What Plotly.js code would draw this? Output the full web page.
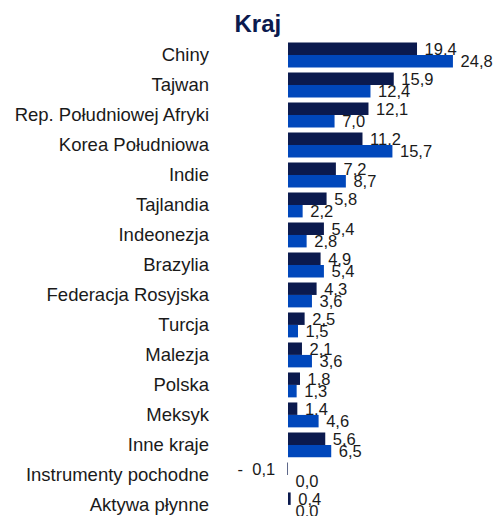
<!DOCTYPE html>
<html><head><meta charset="utf-8">
<script src="https://cdn.plot.ly/plotly-3.0.1.min.js"></script>
<style>html,body{margin:0;padding:0;background:#fff}#chart{width:494px;height:516px}</style>
</head><body><div id="chart"></div>
<script>
const categories = ["Chiny","Tajwan","Rep. Południowej Afryki","Korea Południowa","Indie","Tajlandia","Indeonezja","Brazylia","Federacja Rosyjska","Turcja","Malezja","Polska","Meksyk","Inne kraje","Instrumenty pochodne","Aktywa płynne"];
const fundValues = [19.4,15.9,12.1,11.2,7.2,5.8,5.4,4.9,4.3,2.5,2.1,1.8,1.4,5.6,-0.1,0.4];
const benchValues = [24.8,12.4,7.0,15.7,8.7,2.2,2.8,5.4,3.6,1.5,3.6,1.3,4.6,6.5,0.0,0.0];
const NB = "\u00a0";
const fmt = v => v < 0
  ? "-" + NB + NB + Math.abs(v).toFixed(1).replace(".", ",") + NB + NB
  : NB + v.toFixed(1).replace(".", ",");
const font = "Liberation Sans, Arial, sans-serif";
const common = {type:"bar", orientation:"h", y:categories, textposition:"outside", cliponaxis:false,
  constraintext:"none", textfont:{family:font, size:16.5, color:"#1a1a1a"}, hoverinfo:"skip"};
const data = [
  Object.assign({}, common, {name:"Fundusz", x:fundValues, text:fundValues.map(fmt), marker:{color:"#0b1a4e"}}),
  Object.assign({}, common, {name:"Benchmark", x:benchValues, text:benchValues.map(fmt), marker:{color:"#0047bb"}})
];
const layout = {
  width:494, height:516, margin:{l:210, r:14, t:40, b:0},
  paper_bgcolor:"#fff", plot_bgcolor:"#fff", showlegend:false,
  barmode:"group", bargap:0.17, bargroupgap:0,
  title:{text:"<b>Kraj</b>", x:0.522, xanchor:"center", y:0.955, yanchor:"middle", yref:"container",
    font:{family:font, size:24, color:"#0b1a4e"}},
  xaxis:{range:[-11.73, 28.87], showgrid:false, zeroline:false, showticklabels:false, showline:false, fixedrange:true},
  yaxis:{type:"category", categoryorder:"array", categoryarray:categories, range:[15.37,-0.5],
    showgrid:false, zeroline:false, showline:false, ticks:"", tickfont:{family:font, size:18.5, color:"#1a1a1a"}}
};
Plotly.newPlot("chart", data, layout, {displayModeBar:false, staticPlot:true});
</script></body></html>
